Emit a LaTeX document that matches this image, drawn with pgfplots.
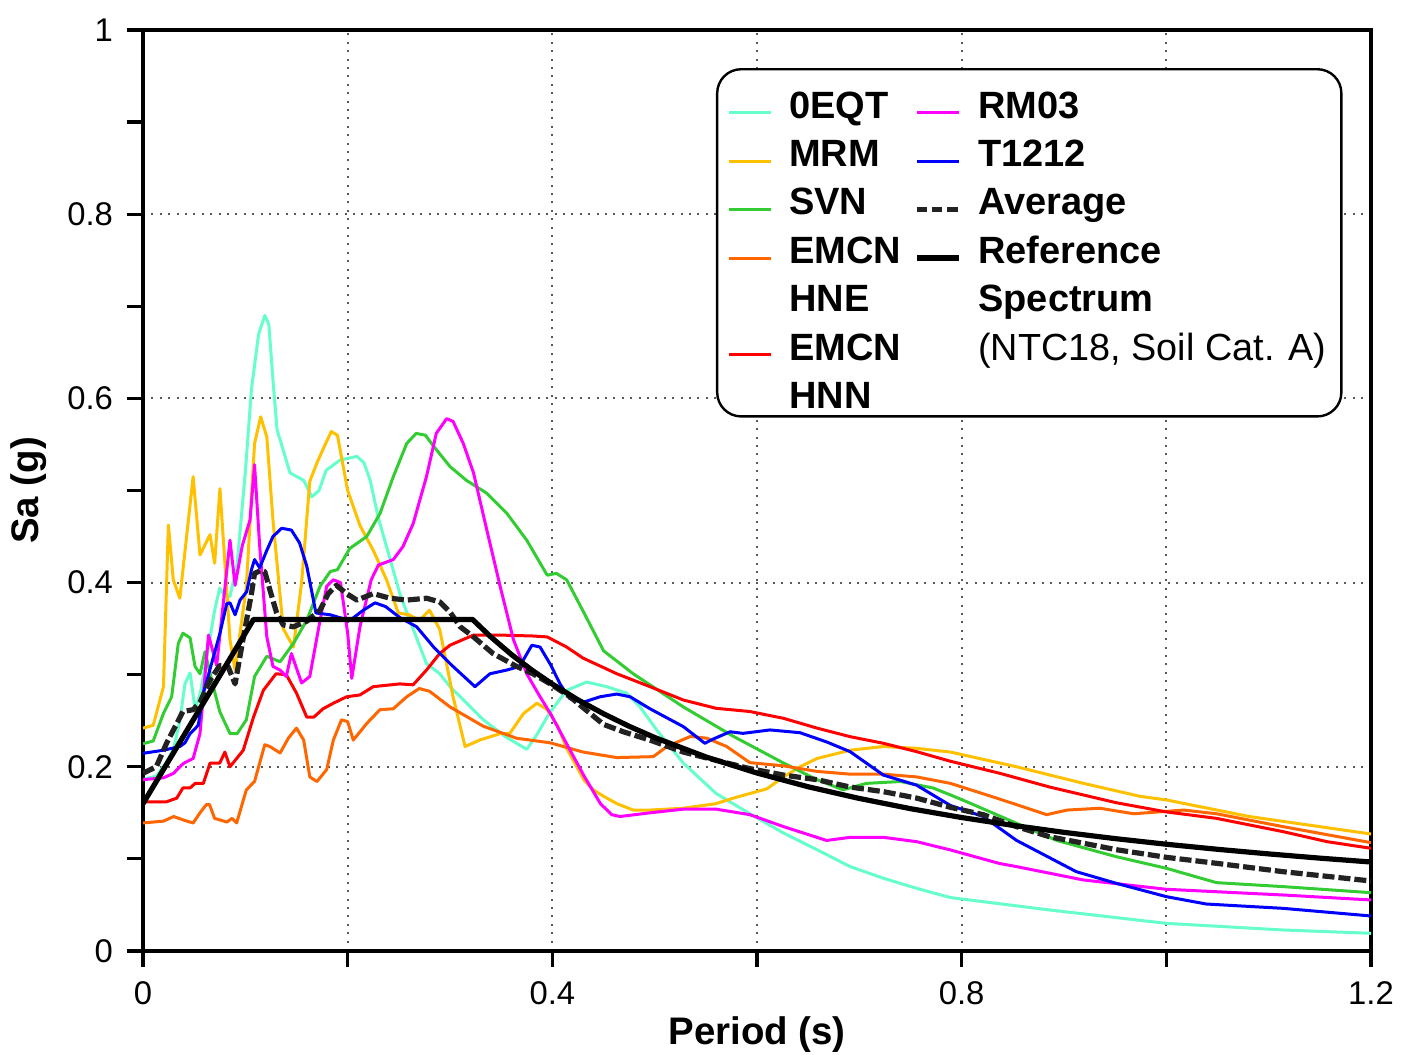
\documentclass[border=0pt]{standalone}
\usepackage{fontspec}
\setmainfont{Liberation Sans}
\usepackage{pgfplots}
\pgfplotsset{compat=1.18}
\definecolor{cEQT}{RGB}{102,255,204}
\definecolor{cMRM}{RGB}{255,192,0}
\definecolor{cSVN}{RGB}{51,204,51}
\definecolor{cHNE}{RGB}{255,102,0}
\definecolor{cHNN}{RGB}{255,0,0}
\definecolor{cRM}{RGB}{255,0,255}
\definecolor{cT}{RGB}{0,0,255}
\definecolor{cAvg}{RGB}{34,34,34}
\newcommand{\LA}[1]{\makebox[31.25pt][l]{#1}}
\begin{document}
\begin{tikzpicture}
\useasboundingbox (-35.75pt,-26pt) rectangle (317pt,237.75pt);
\begin{axis}[
  scale only axis, width=307pt, height=230.25pt,
  xmin=0, xmax=1.2, ymin=0, ymax=1,
  xtick={0,0.2,0.4,0.6,0.8,1.0,1.2},
  xticklabels={0,,0.4,,0.8,,1.2},
  ytick={0,0.2,0.4,0.6,0.8,1},
  yticklabels={0,0.2,0.4,0.6,0.8,1},
  minor ytick={0.1,0.3,0.5,0.7,0.9},
  tick align=outside, major tick length=4pt, minor tick length=4pt,
  tick style={black, line width=0.8pt},
  xtick pos=bottom, ytick pos=left,
  xmajorgrids, ymajorgrids,
  major grid style={black!65, line width=0.5pt, dash pattern=on 0.5pt off 1.6pt},
  axis line style={line width=0.8pt},
  ticklabel style={font=\fontsize{8.2}{9}\selectfont},
  /pgf/number format/assume math mode=true,
  xlabel={Period (s)}, ylabel={Sa (g)},
  label style={font=\fontsize{9.6}{11}\selectfont\bfseries},
  xlabel style={at={(axis description cs:0.5,-0.102)}, anchor=base},
  ylabel style={at={(axis description cs:-0.0847,0.5)}, anchor=base, rotate=0},
  legend columns=2,
  legend image code/.code={\draw[#1] (0pt,1.3pt) -- (10.5pt,1.3pt);},
  legend style={at={(0.4666,0.9587)}, anchor=north west,
    draw=black, line width=0.6pt, rounded corners=6pt,
    inner xsep=2.5pt, inner ysep=2pt, row sep=1.9pt, column sep=0pt,
    font=\fontsize{9.5}{11.25}\selectfont\bfseries,
    cells={anchor=base west},
    nodes={anchor=base west, inner sep=0pt, text height=10.2pt, text depth=0pt},
    /tikz/every odd column/.append style={column sep=4.25pt},
    /tikz/every even column/.append style={column sep=0pt}},
  every axis plot/.append style={line width=0.75pt, line join=round},
]
% 0EQT
\addplot[cEQT, forget plot] coordinates {(0,0.186) (0.013,0.19) (0.023,0.205) (0.03,0.22) (0.036,0.25) (0.041,0.29) (0.046,0.302) (0.051,0.262) (0.056,0.28) (0.064,0.33) (0.070,0.37) (0.075,0.394) (0.080,0.385) (0.085,0.385) (0.092,0.42) (0.1,0.52) (0.106,0.61) (0.113,0.67) (0.119,0.69) (0.123,0.68) (0.127,0.62) (0.131,0.566) (0.1437,0.519) (0.157,0.511) (0.165,0.493) (0.172,0.50) (0.179,0.522) (0.1925,0.533) (0.209,0.537) (0.216,0.53) (0.222,0.511) (0.23,0.47) (0.238,0.439) (0.251,0.388) (0.258,0.367) (0.277,0.312) (0.29,0.301) (0.3,0.287) (0.3326,0.251) (0.355,0.232) (0.375,0.219) (0.385,0.235) (0.397,0.258) (0.414,0.283) (0.4336,0.292) (0.453,0.287) (0.4726,0.28) (0.4857,0.265) (0.502,0.24) (0.528,0.204) (0.56,0.171) (0.593,0.149) (0.626,0.128) (0.6586,0.11) (0.691,0.0916) (0.7235,0.079) (0.756,0.068) (0.789,0.058) (0.886,0.0445) (1.0,0.030) (1.114,0.0228) (1.2,0.0192)};
% MRM
\addplot[cMRM, forget plot] coordinates {(0,0.242) (0.01,0.245) (0.02,0.287) (0.0248,0.4625) (0.0296,0.403) (0.036,0.383) (0.049,0.515) (0.0557,0.43) (0.0655,0.452) (0.070,0.421) (0.0752,0.502) (0.085,0.338) (0.09,0.305) (0.101,0.396) (0.109,0.551) (0.115,0.58) (0.121,0.558) (0.127,0.468) (0.137,0.35) (0.147,0.33) (0.155,0.40) (0.163,0.51) (0.17,0.53) (0.176,0.545) (0.184,0.564) (0.19,0.56) (0.2,0.50) (0.212,0.462) (0.225,0.435) (0.238,0.403) (0.2495,0.367) (0.26,0.365) (0.27,0.359) (0.28,0.37) (0.29,0.349) (0.303,0.276) (0.3147,0.222) (0.329,0.229) (0.349,0.236) (0.3583,0.236) (0.372,0.258) (0.385,0.269) (0.395,0.262) (0.405,0.245) (0.414,0.22) (0.4313,0.185) (0.44,0.175) (0.45,0.168) (0.463,0.16) (0.479,0.153) (0.495,0.153) (0.528,0.155) (0.56,0.16) (0.577,0.166) (0.593,0.171) (0.6095,0.176) (0.626,0.189) (0.642,0.2) (0.6586,0.209) (0.691,0.218) (0.7235,0.222) (0.756,0.22) (0.789,0.216) (0.8537,0.2) (0.919,0.182) (0.974,0.168) (1.0,0.164) (1.081,0.146) (1.2,0.127)};
% SVN
\addplot[cSVN, forget plot] coordinates {(0,0.225) (0.01,0.228) (0.02,0.258) (0.028,0.276) (0.0345,0.334) (0.039,0.345) (0.046,0.34) (0.0508,0.309) (0.0557,0.301) (0.0606,0.325) (0.068,0.29) (0.075,0.26) (0.085,0.236) (0.092,0.236) (0.101,0.251) (0.109,0.298) (0.121,0.32) (0.134,0.314) (0.147,0.334) (0.16,0.359) (0.173,0.396) (0.183,0.412) (0.19,0.414) (0.202,0.437) (0.2186,0.45) (0.2316,0.475) (0.2446,0.515) (0.2577,0.551) (0.267,0.562) (0.276,0.56) (0.284,0.548) (0.3,0.526) (0.316,0.511) (0.336,0.497) (0.3557,0.475) (0.375,0.446) (0.395,0.408) (0.404,0.41) (0.414,0.403) (0.431,0.367) (0.45,0.326) (0.479,0.301) (0.528,0.265) (0.577,0.233) (0.626,0.204) (0.6586,0.186) (0.684,0.175) (0.707,0.182) (0.74,0.184) (0.772,0.177) (0.79,0.169) (0.805,0.162) (0.8537,0.1386) (0.893,0.12) (0.951,0.1024) (1.0,0.0898) (1.049,0.0742) (1.114,0.0699) (1.2,0.0633)};
% EMCN HNE
\addplot[cHNE, forget plot] coordinates {(0,0.139) (0.02,0.141) (0.03,0.146) (0.04,0.142) (0.049,0.139) (0.0557,0.15) (0.062,0.159) (0.065,0.159) (0.07,0.144) (0.082,0.14) (0.087,0.144) (0.0915,0.139) (0.101,0.175) (0.109,0.184) (0.119,0.224) (0.124,0.222) (0.134,0.215) (0.142,0.231) (0.15,0.242) (0.157,0.229) (0.163,0.189) (0.17,0.184) (0.1795,0.197) (0.186,0.229) (0.194,0.251) (0.2,0.249) (0.2055,0.229) (0.2186,0.247) (0.2316,0.262) (0.2446,0.263) (0.2577,0.276) (0.27,0.285) (0.28,0.282) (0.3,0.265) (0.3326,0.244) (0.365,0.231) (0.398,0.226) (0.43,0.216) (0.463,0.21) (0.4987,0.211) (0.512,0.222) (0.535,0.233) (0.551,0.231) (0.5704,0.222) (0.593,0.2045) (0.626,0.201) (0.6586,0.195) (0.691,0.192) (0.7235,0.192) (0.756,0.189) (0.789,0.182) (0.837,0.165) (0.883,0.148) (0.903,0.153) (0.935,0.155) (0.968,0.149) (1.017,0.153) (1.049,0.149) (1.114,0.135) (1.2,0.1176)};
% EMCN HNN
\addplot[cHNN, forget plot] coordinates {(0,0.162) (0.023,0.162) (0.033,0.166) (0.039,0.177) (0.046,0.177) (0.051,0.182) (0.059,0.182) (0.0655,0.204) (0.075,0.204) (0.08,0.216) (0.085,0.2) (0.0915,0.209) (0.098,0.218) (0.108,0.254) (0.1176,0.283) (0.13,0.301) (0.14,0.30) (0.15,0.28) (0.16,0.254) (0.167,0.254) (0.176,0.263) (0.186,0.269) (0.199,0.276) (0.212,0.278) (0.225,0.287) (0.251,0.29) (0.264,0.289) (0.277,0.305) (0.29,0.323) (0.3,0.332) (0.323,0.343) (0.349,0.343) (0.381,0.342) (0.395,0.341) (0.414,0.33) (0.43,0.318) (0.463,0.301) (0.4954,0.287) (0.528,0.2725) (0.56,0.2635) (0.593,0.26) (0.626,0.2526) (0.6586,0.242) (0.691,0.2327) (0.7235,0.2255) (0.756,0.2164) (0.789,0.206) (0.837,0.193) (0.886,0.178) (0.951,0.161) (1.0,0.151) (1.049,0.144) (1.114,0.1296) (1.157,0.1187) (1.2,0.1115)};
% RM03
\addplot[cRM, forget plot] coordinates {(0,0.186) (0.02,0.188) (0.03,0.193) (0.036,0.2) (0.04,0.204) (0.049,0.209) (0.0557,0.236) (0.064,0.343) (0.072,0.31) (0.085,0.446) (0.09,0.397) (0.097,0.44) (0.1046,0.468) (0.109,0.528) (0.114,0.44) (0.121,0.341) (0.127,0.309) (0.134,0.305) (0.14,0.298) (0.145,0.323) (0.155,0.291) (0.163,0.298) (0.173,0.359) (0.1795,0.396) (0.186,0.403) (0.193,0.40) (0.2,0.345) (0.204,0.296) (0.212,0.352) (0.223,0.403) (0.23,0.419) (0.2446,0.425) (0.254,0.439) (0.264,0.464) (0.277,0.515) (0.2866,0.562) (0.2967,0.578) (0.303,0.575) (0.313,0.551) (0.323,0.519) (0.336,0.457) (0.349,0.396) (0.362,0.338) (0.375,0.301) (0.388,0.276) (0.398,0.258) (0.414,0.225) (0.431,0.19) (0.447,0.16) (0.458,0.148) (0.466,0.146) (0.4954,0.15) (0.528,0.154) (0.56,0.154) (0.593,0.148) (0.626,0.135) (0.668,0.12) (0.691,0.1234) (0.7235,0.1234) (0.756,0.1187) (0.789,0.1097) (0.837,0.095) (0.8537,0.0916) (0.919,0.0771) (1.0,0.067) (1.114,0.0608) (1.2,0.0554)};
% T1212
\addplot[cT, forget plot] coordinates {(0,0.2146) (0.02,0.218) (0.036,0.222) (0.041,0.226) (0.046,0.236) (0.054,0.245) (0.059,0.28) (0.067,0.312) (0.0752,0.345) (0.0818,0.377) (0.085,0.378) (0.09,0.365) (0.0948,0.381) (0.1013,0.39) (0.106,0.414) (0.109,0.425) (0.114,0.416) (0.121,0.435) (0.127,0.45) (0.1355,0.459) (0.145,0.457) (0.153,0.443) (0.16,0.418) (0.169,0.367) (0.183,0.365) (0.192,0.362) (0.2023,0.359) (0.2153,0.37) (0.2267,0.378) (0.237,0.374) (0.251,0.362) (0.2674,0.352) (0.284,0.33) (0.3,0.312) (0.3244,0.287) (0.339,0.301) (0.3554,0.305) (0.368,0.309) (0.38,0.332) (0.388,0.33) (0.3987,0.31) (0.4075,0.29) (0.417,0.274) (0.43,0.27) (0.4466,0.276) (0.463,0.279) (0.476,0.276) (0.4954,0.263) (0.528,0.2436) (0.549,0.2255) (0.557,0.23) (0.5736,0.238) (0.5863,0.2363) (0.6127,0.24) (0.642,0.237) (0.668,0.227) (0.691,0.2164) (0.7235,0.191) (0.756,0.18) (0.789,0.158) (0.821,0.146) (0.8537,0.12) (0.912,0.0861) (0.951,0.0735) (1.0,0.059) (1.039,0.051) (1.114,0.0463) (1.2,0.038)};
% Average
\addplot[cAvg, line width=1.3pt, dash pattern=on 3pt off 1pt, forget plot] coordinates {(0,0.193) (0.013,0.2) (0.023,0.2255) (0.033,0.247) (0.039,0.26) (0.049,0.262) (0.0557,0.27) (0.0655,0.294) (0.075,0.31) (0.083,0.309) (0.09,0.29) (0.098,0.34) (0.106,0.388) (0.109,0.41) (0.115,0.413) (0.119,0.412) (0.124,0.392) (0.1306,0.367) (0.137,0.354) (0.147,0.352) (0.16,0.358) (0.173,0.37) (0.181,0.388) (0.189,0.397) (0.199,0.388) (0.209,0.381) (0.225,0.388) (0.2414,0.383) (0.2577,0.381) (0.277,0.383) (0.29,0.379) (0.3,0.368) (0.31,0.352) (0.323,0.341) (0.342,0.323) (0.365,0.309) (0.381,0.301) (0.398,0.29) (0.4173,0.276) (0.4336,0.261) (0.45,0.246) (0.4694,0.238) (0.4954,0.229) (0.528,0.216) (0.56,0.207) (0.593,0.198) (0.626,0.191) (0.6586,0.186) (0.691,0.178) (0.7235,0.173) (0.756,0.166) (0.789,0.156) (0.821,0.148) (0.8537,0.135) (0.886,0.124) (0.919,0.117) (0.951,0.11) (1.0,0.1017) (1.049,0.0952) (1.114,0.0861) (1.2,0.076)};
% Reference spectrum
\addplot[black, line width=1.3pt, forget plot] coordinates {(0,0.16) (0.108,0.36) (0.322,0.36) (0.34,0.3409) (0.36,0.3219) (0.38,0.305) (0.4,0.2898) (0.425,0.2727) (0.45,0.2576) (0.475,0.244) (0.5,0.2318) (0.55,0.2107) (0.6,0.1932) (0.65,0.1783) (0.7,0.1656) (0.75,0.1545) (0.8,0.1449) (0.85,0.1364) (0.9,0.1288) (0.95,0.122) (1.0,0.1159) (1.05,0.1104) (1.1,0.1054) (1.15,0.1008) (1.2,0.0966)};
% legend (row-major, two columns)
\addlegendimage{cEQT, line width=0.75pt}\addlegendentry{\LA{0EQT}}
\addlegendimage{cRM, line width=0.75pt}\addlegendentry{RM03}
\addlegendimage{cMRM, line width=0.75pt}\addlegendentry{\LA{MRM}}
\addlegendimage{cT, line width=0.75pt}\addlegendentry{T1212}
\addlegendimage{cSVN, line width=0.75pt}\addlegendentry{\LA{SVN}}
\addlegendimage{cAvg, line width=1.3pt, dash pattern=on 2.6pt off 1.2pt}\addlegendentry{Average}
\addlegendimage{cHNE, line width=0.75pt}\addlegendentry{\LA{EMCN}}
\addlegendimage{black, line width=1.3pt}\addlegendentry{Reference}
\addlegendimage{empty legend}\addlegendentry{\LA{HNE}}
\addlegendimage{empty legend}\addlegendentry{Spectrum}
\addlegendimage{cHNN, line width=0.75pt}\addlegendentry{\LA{EMCN}}
\addlegendimage{empty legend}\addlegendentry{{\mdseries\fontsize{9.45}{11.25}\selectfont (NTC18, Soil Cat. A)\rule{1.25pt}{0pt}}}
\addlegendimage{empty legend}\addlegendentry{\LA{HNN}}
\addlegendimage{empty legend}\addlegendentry{}
\end{axis}
\end{tikzpicture}
\end{document}
